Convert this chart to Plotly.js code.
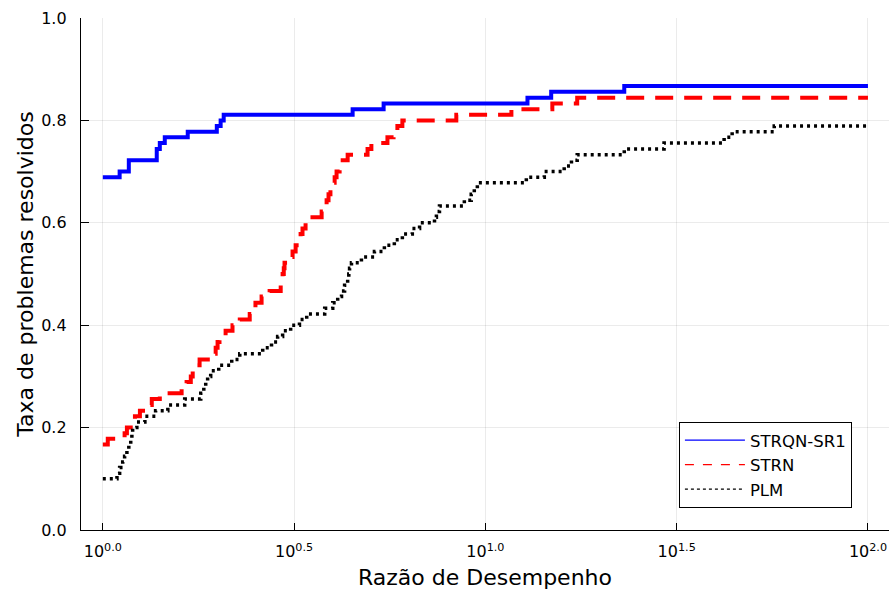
<!DOCTYPE html>
<html>
<head>
<meta charset="utf-8">
<script src="https://cdn.plot.ly/plotly-3.0.1.min.js"></script>
<style>html,body{margin:0;padding:0;background:#fff;}#chart{width:889px;height:594px;}</style>
</head>
<body>
<div id="chart"></div>
<script>
// x values are log10 of the performance ratio (axis labelled 10^k)
var seriesNames = ["STRQN-SR1", "STRN", "PLM"];

var strqnX = [0, 0.044, 0.068, 0.141, 0.149, 0.162, 0.222, 0.298, 0.308, 0.316, 0.653, 0.734, 1.110, 1.172, 1.363, 2.0];
var strqnY = [0.689, 0.700, 0.722, 0.744, 0.756, 0.767, 0.778, 0.789, 0.800, 0.811, 0.822, 0.833, 0.844, 0.856, 0.867, 0.867];

var strnX = [0, 0.013, 0.057, 0.063, 0.073, 0.084, 0.097, 0.112, 0.128, 0.149, 0.206, 0.219, 0.230, 0.235, 0.243, 0.253,
  0.290, 0.295, 0.300, 0.305, 0.321, 0.339, 0.358, 0.384, 0.392, 0.399, 0.415, 0.436, 0.465, 0.467, 0.470, 0.473,
  0.475, 0.483, 0.496, 0.504, 0.512, 0.517, 0.522, 0.530, 0.540, 0.572, 0.580, 0.585, 0.590, 0.595, 0.601, 0.606,
  0.611, 0.619, 0.627, 0.640, 0.692, 0.702, 0.744, 0.760, 0.770, 0.783, 0.924, 1.068, 1.175, 1.240, 2.0];
var strnY = [0.167, 0.178, 0.189, 0.200, 0.211, 0.222, 0.233, 0.244, 0.256, 0.267, 0.278, 0.289, 0.300, 0.311, 0.322, 0.333,
  0.344, 0.356, 0.367, 0.378, 0.389, 0.400, 0.411, 0.422, 0.433, 0.444, 0.456, 0.467, 0.478, 0.489, 0.500, 0.511,
  0.522, 0.533, 0.544, 0.556, 0.567, 0.578, 0.589, 0.600, 0.611, 0.622, 0.633, 0.644, 0.656, 0.667, 0.678, 0.689,
  0.700, 0.711, 0.722, 0.733, 0.744, 0.756, 0.767, 0.778, 0.789, 0.800, 0.811, 0.822, 0.833, 0.844, 0.844];

var plmX = [0, 0.037, 0.044, 0.052, 0.057, 0.063, 0.068, 0.073, 0.076, 0.078, 0.089, 0.110, 0.138, 0.170, 0.214, 0.256,
  0.264, 0.269, 0.274, 0.282, 0.303, 0.337, 0.358, 0.418, 0.441, 0.457, 0.470, 0.491, 0.514, 0.533, 0.580, 0.601,
  0.614, 0.624, 0.632, 0.640, 0.643, 0.645, 0.650, 0.676, 0.710, 0.736, 0.762, 0.783, 0.809, 0.828, 0.867, 0.872,
  0.880, 0.945, 0.963, 0.971, 0.979, 1.107, 1.154, 1.206, 1.225, 1.240, 1.363, 1.467, 1.624, 1.645, 1.755, 2.0];
var plmY = [0.100, 0.111, 0.122, 0.133, 0.144, 0.156, 0.167, 0.178, 0.189, 0.200, 0.211, 0.222, 0.233, 0.244, 0.256, 0.267,
  0.278, 0.289, 0.300, 0.311, 0.322, 0.333, 0.344, 0.356, 0.367, 0.378, 0.389, 0.400, 0.411, 0.422, 0.433, 0.444,
  0.456, 0.467, 0.478, 0.489, 0.500, 0.511, 0.522, 0.533, 0.544, 0.556, 0.567, 0.578, 0.589, 0.600, 0.611, 0.622,
  0.633, 0.644, 0.656, 0.667, 0.678, 0.689, 0.700, 0.711, 0.722, 0.733, 0.744, 0.756, 0.767, 0.778, 0.789, 0.789];

var xTickVals = [0, 0.5, 1.0, 1.5, 2.0];
var xTickText = ["10<sup>0.0</sup>", "10<sup>0.5</sup>", "10<sup>1.0</sup>", "10<sup>1.5</sup>", "10<sup>2.0</sup>"];
var yTickVals = [0, 0.2, 0.4, 0.6, 0.8, 1.0];
var yTickText = ["0.0", "0.2", "0.4", "0.6", "0.8", "1.0"];

var colors = ["#0000ff", "#ff0000", "#000000"];
var font = "DejaVu Sans, sans-serif";

var traces = [
  {x: strqnX, y: strqnY, mode: "lines", line: {shape: "hv", color: colors[0], width: 4}, showlegend: false},
  {x: strnX, y: strnY, mode: "lines", line: {shape: "hv", color: colors[1], width: 4, dash: "18px,11px"}, showlegend: false},
  {x: plmX, y: plmY, mode: "lines", line: {shape: "hv", color: colors[2], width: 3.5, dash: "3px,4px"}, showlegend: false},
  {x: [null], y: [null], mode: "lines", name: seriesNames[0], line: {color: colors[0], width: 1.2}},
  {x: [null], y: [null], mode: "lines", name: seriesNames[1], line: {color: colors[1], width: 1.2, dash: "dash"}},
  {x: [null], y: [null], mode: "lines", name: seriesNames[2], line: {color: colors[2], width: 1.2, dash: "dot"}}
];

var layout = {
  width: 889, height: 594,
  margin: {l: 81, r: 0, t: 18, b: 64},
  paper_bgcolor: "#ffffff", plot_bgcolor: "#ffffff",
  font: {family: font, color: "#000"},
  xaxis: {
    range: [-0.057, 2.055], tickvals: xTickVals, ticktext: xTickText,
    ticks: "inside", ticklen: 7, tickcolor: "#000", tickwidth: 1,
    showline: true, linecolor: "#000", linewidth: 1.2, mirror: false,
    showgrid: true, gridcolor: "rgba(0,0,0,0.08)", gridwidth: 1, zeroline: false,
    tickfont: {size: 16, family: font, color: "#000"}, ticklabelstandoff: 7,
    title: {text: "Razão de Desempenho", font: {size: 22, family: font, color: "#000"}, standoff: 9}
  },
  yaxis: {
    range: [0, 1], tickvals: yTickVals, ticktext: yTickText,
    ticks: "inside", ticklen: 8, tickcolor: "#000", tickwidth: 1,
    showline: true, linecolor: "#000", linewidth: 1.2, mirror: false,
    showgrid: true, gridcolor: "rgba(0,0,0,0.08)", gridwidth: 1, zeroline: false,
    tickfont: {size: 16, family: font, color: "#000"}, ticklabelstandoff: 10,
    title: {text: "Taxa de problemas resolvidos", font: {size: 22, family: font, color: "#000"}, standoff: 1}
  },
  legend: {
    x: 0.74, y: 0.211, xanchor: "left", yanchor: "top",
    bordercolor: "#000", borderwidth: 1, bgcolor: "#fff",
    font: {size: 16.5, family: font, color: "#000"},
    itemwidth: 60
  }
};

Plotly.newPlot("chart", traces, layout, {displayModeBar: false, staticPlot: true});
</script>
</body>
</html>
